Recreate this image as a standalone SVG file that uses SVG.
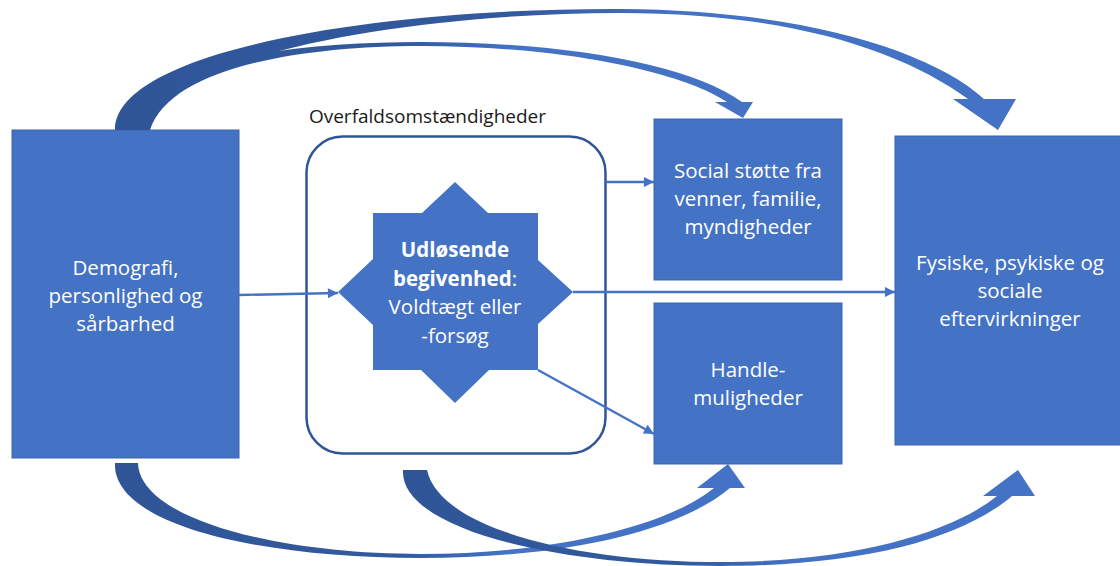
<svg xmlns="http://www.w3.org/2000/svg" width="1120" height="566" viewBox="0 0 1120 566">
<style>
.box{fill:#4472c4;stroke:#3a65b0;stroke-width:1}
.t{font-family:"Open Sans","Liberation Sans",sans-serif;font-size:20.5px;fill:#ffffff;text-anchor:middle}
.b{font-weight:bold}
.lbl{font-family:"Open Sans","Liberation Sans",sans-serif;font-size:19px;fill:#1a1a1a;text-anchor:middle}
.con{stroke:#4472c4;stroke-width:2.4;fill:none;marker-end:url(#ah)}
.curve{fill:url(#cg);stroke:none}
</style>
<defs>
<marker id="ah" viewBox="0 0 10 10" refX="10" refY="5" markerWidth="4.6" markerHeight="4.2" orient="auto" markerUnits="strokeWidth">
<path d="M0,0 L10,5 L0,10 Z" fill="#4472c4"/>
</marker>
<linearGradient id="cg" x1="0" y1="0" x2="1" y2="0">
<stop offset="0" stop-color="#2f5597"/>
<stop offset="0.45" stop-color="#325a9e"/>
<stop offset="0.62" stop-color="#4472c4"/>
<stop offset="1" stop-color="#4472c4"/>
</linearGradient>
</defs>

<g id="node-demografi">
<rect class="box" x="12" y="130" width="227" height="328"/>
<text class="t" x="125.5" y="275">Demografi,</text>
<text class="t" x="125.5" y="303">personlighed og</text>
<text class="t" x="125.5" y="331">sårbarhed</text>
</g>

<g id="node-overfald">
<text class="lbl" x="427.5" y="123">Overfaldsomstændigheder</text>
<rect x="306.5" y="136.5" width="299" height="317" rx="36" ry="36" fill="none" stroke="#2f5597" stroke-width="2.5"/>
</g>

<g id="node-udloesende">
<polygon fill="#4472c4" points="455,182 488,213 538,213 538,260 573,292 538,324 538,370 489,370 455,403 421,370 373,370 373,325 338,292 373,259 373,213 422,213"/>
<text class="t" x="455" y="257"><tspan class="b">Udløsende</tspan></text>
<text class="t" x="455" y="285.5"><tspan class="b">begivenhed</tspan>:</text>
<text class="t" x="455" y="314">Voldtægt eller</text>
<text class="t" x="455" y="342.5">-forsøg</text>
</g>

<g id="node-social">
<rect class="box" x="654" y="119" width="188" height="161"/>
<text class="t" x="748" y="178">Social støtte fra</text>
<text class="t" x="748" y="206">venner, familie,</text>
<text class="t" x="748" y="234">myndigheder</text>
</g>

<g id="node-handle">
<rect class="box" x="654" y="303" width="188" height="161"/>
<text class="t" x="748" y="377">Handle-</text>
<text class="t" x="748" y="405">muligheder</text>
</g>

<g id="node-eftervirkninger">
<rect class="box" x="895" y="136" width="235" height="309"/>
<text class="t" x="1010" y="270">Fysiske, psykiske og</text>
<text class="t" x="1010" y="298">sociale</text>
<text class="t" x="1010" y="326">eftervirkninger</text>
</g>

<g id="connectors">
<line class="con" x1="239" y1="295" x2="338" y2="293"/>
<line class="con" x1="573" y1="292" x2="895" y2="292"/>
<line class="con" x1="606" y1="182" x2="654" y2="182"/>
<line class="con" x1="538" y1="370" x2="654" y2="434"/>

<path class="curve" d="M 115 130 C 115 50, 380 8, 620 9 C 800 10, 930 50, 984 99 L 1016 99 L 998 130 L 953 99 L 968 99 C 900 50, 790 13, 620 13 C 400 13, 160 58, 145 130 Z"/>
<path class="curve" d="M 120 130 C 130 60, 300 42, 420 42 C 570 42, 690 65, 742 102 L 753 102 L 743 118 L 715 102 L 727 102 C 680 71, 560 46, 420 46 C 300 46, 170 68, 150 130 Z"/>
<path class="curve" d="M 115 463 C 112 525, 260 558, 420 558 C 570 558, 680 530, 730 488 L 745 488 L 728 464 L 697 488 L 714 488 C 670 524, 560 554, 420 554 C 280 554, 140 520, 138 463 Z"/>
<path class="curve" d="M 403 470 C 400 530, 560 566, 720 566 C 860 566, 960 540, 1012 496 L 1035 496 L 1018 470 L 983 496 L 997 496 C 950 534, 850 562, 720 562 C 580 562, 440 530, 427 470 Z"/>
</g>
</svg>
